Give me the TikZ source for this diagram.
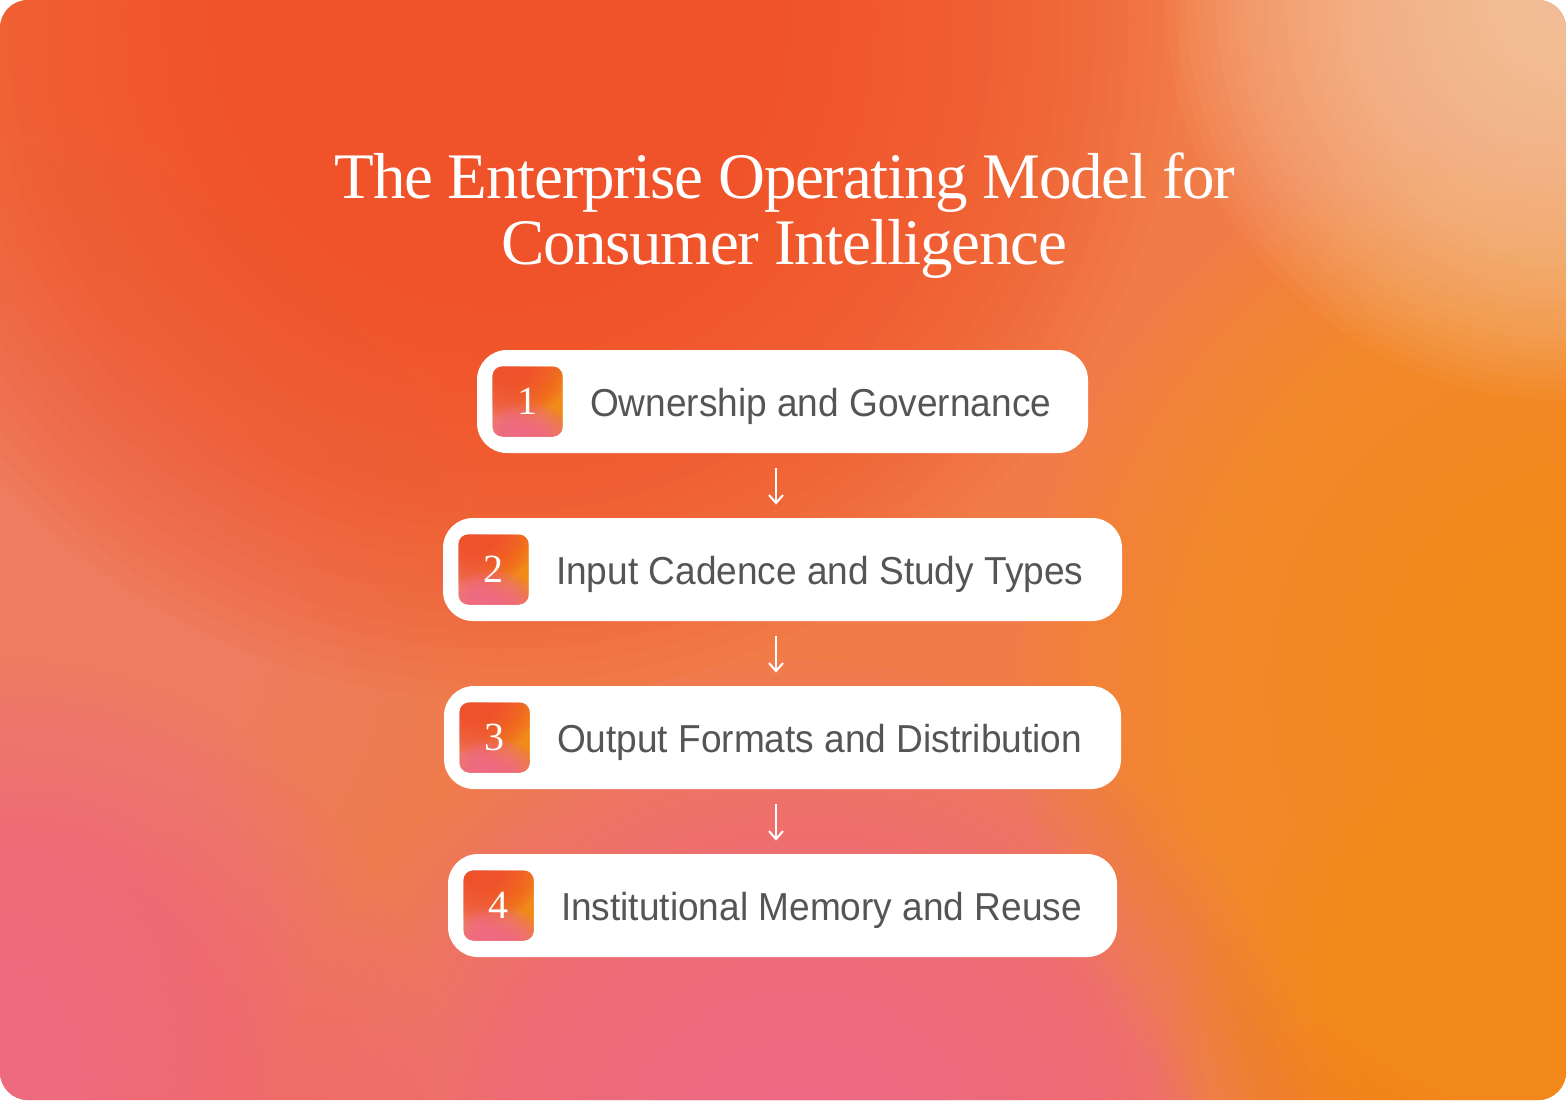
\documentclass[tikz,border=0pt]{standalone}
\usepackage{fontspec}
\setmainfont{Liberation Sans}
\newfontfamily\labelfont{Liberation Sans}[FakeStretch=0.95]
\newfontfamily\titlefont{Liberation Serif}[LetterSpace=-2]
\newfontfamily\numfont{Liberation Serif}
\usetikzlibrary{arrows.meta}
\definecolor{bgbase}{HTML}{F27C48}
\definecolor{redor}{HTML}{F0522A}
\definecolor{orng}{HTML}{F5981A}
\definecolor{peach}{HTML}{F5CFA8}
\definecolor{pinkc}{HTML}{EE6A96}
\definecolor{salmon}{HTML}{EE8C72}
\definecolor{txtgray}{HTML}{555555}
\tikzset{
  card/.style={fill=white, rounded corners=15pt, minimum height=51.5pt, inner sep=0pt},
  numtext/.style={text=white, font=\numfont\fontsize{20}{20}\selectfont, inner sep=0pt, anchor=base},
  labeltext/.style={text=txtgray, font=\labelfont\fontsize{19.5}{22}\selectfont, inner sep=0pt, anchor=base west},
  titletext/.style={text=white, font=\titlefont\fontsize{32.5}{36}\selectfont, inner sep=0pt, anchor=base},
  arr/.style={draw=white, line width=1pt, -{Straight Barb[length=4pt,width=7pt,line width=1pt]}}
}
% soft blob: centre, radius (pt), colour, opacity per layer
\newcommand{\blob}[4]{%
  \foreach \k in {1,...,40}{\fill[#3, opacity=#4] #1 circle[radius={#2pt*\k/40}];}}
\newcommand{\badgefill}[1]{%
  \begin{scope}
    \clip[rounded corners=5pt] ([shift={(-17.5pt,-17.5pt)}]#1) rectangle ([shift={(17.5pt,17.5pt)}]#1);
    \fill[bgbase] ([shift={(-17.5pt,-17.5pt)}]#1) rectangle ([shift={(17.5pt,17.5pt)}]#1);
    \blob{([shift={(-20pt,-2pt)}]#1)}{26}{salmon}{0.06}
    \blob{([shift={(22pt,0pt)}]#1)}{30}{orng}{0.07}
    \blob{([shift={(-8pt,20pt)}]#1)}{30}{redor}{0.07}
    \blob{([shift={(0pt,-26pt)}]#1)}{26}{pinkc}{0.07}
  \end{scope}}
\begin{document}
\begin{tikzpicture}[x=0.5pt,y=-0.5pt]
\useasboundingbox (0,0) rectangle (1566,1100);
\begin{scope}
  \clip[rounded corners=14pt] (0,0) rectangle (1566,1100);
  \fill[bgbase] (0,0) rectangle (1566,1100);
  \blob{(0,620)}{250}{salmon}{0.05}
  \blob{(0,1100)}{220}{pinkc}{0.045}
  \blob{(800,1180)}{260}{pinkc}{0.055}
  \blob{(1600,690)}{290}{orng}{0.06}
  \blob{(1500,1100)}{170}{orng}{0.04}
  \blob{(500,20)}{340}{redor}{0.07}
  \blob{(1566,0)}{200}{peach}{0.055}
\end{scope}
% title
\node[titletext] (t1) at (785,198) {The Enterprise Operating Model for};
\node[titletext] (t2) at (784,264) {Consumer Intelligence};
% cards
\node[card, minimum width=305.5pt] (c1) at (782.5,401.5) {};
\node[card, minimum width=339.5pt] (c2) at (782.5,569.5) {};
\node[card, minimum width=338.5pt] (c3) at (782.5,737.5) {};
\node[card, minimum width=334.5pt] (c4) at (782.5,905.5) {};
% badges
\foreach \i in {1,2,3,4}{
  \coordinate (bc\i) at ([xshift=25.5pt]c\i.west);
  \badgefill{bc\i}
  \node[numtext] (n\i) at ([yshift=-6.5pt]bc\i) {\i};
}
% labels
\node[labeltext] (l1) at ([xshift=31pt,yshift=-7.25pt]bc1) {Ownership and Governance};
\node[labeltext] (l2) at ([xshift=31pt,yshift=-7.25pt]bc2) {Input Cadence and Study Types};
\node[labeltext] (l3) at ([xshift=31pt,yshift=-7.25pt]bc3) {Output Formats and Distribution};
\node[labeltext] (l4) at ([xshift=31pt,yshift=-7.25pt]bc4) {Institutional Memory and Reuse};
% arrows
\draw[arr] ([xshift=-3.25pt,yshift=-7.5pt]c1.south) -- ([xshift=-3.25pt,yshift=6.5pt]c2.north);
\draw[arr] ([xshift=-3.25pt,yshift=-7.5pt]c2.south) -- ([xshift=-3.25pt,yshift=6.5pt]c3.north);
\draw[arr] ([xshift=-3.25pt,yshift=-7.5pt]c3.south) -- ([xshift=-3.25pt,yshift=6.5pt]c4.north);
\end{tikzpicture}
\end{document}
